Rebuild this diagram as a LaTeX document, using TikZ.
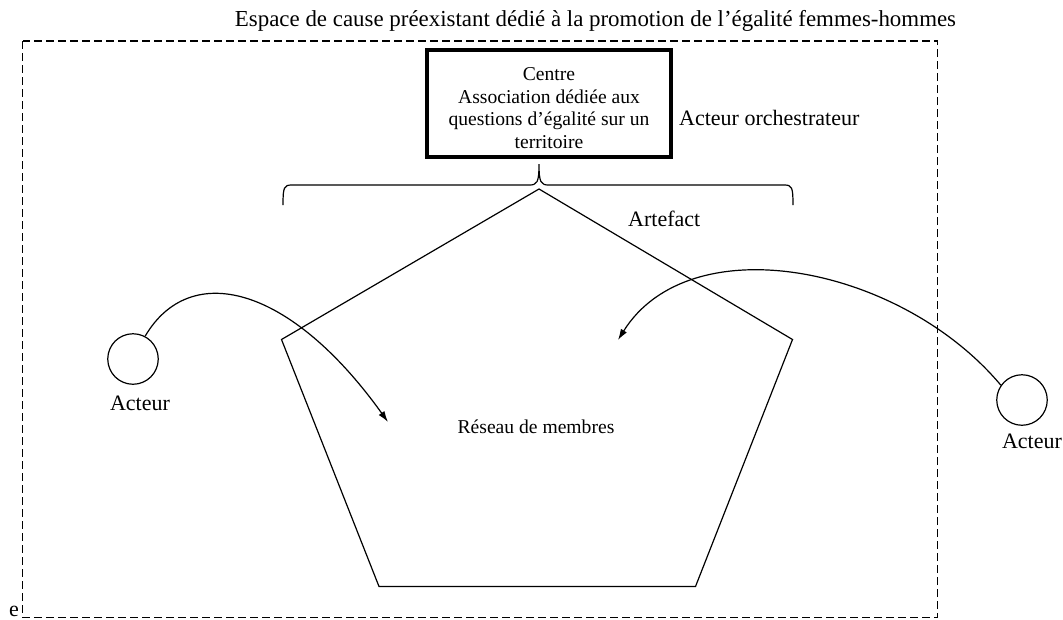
\documentclass[tikz,border=0pt]{standalone}
\usepackage{fontspec}
\setmainfont{Liberation Serif}
\usetikzlibrary{arrows.meta}
\tikzset{
  lbl/.style={font=\fontsize{22}{26}\selectfont, inner sep=0pt},
  titlefont/.style={font=\fontsize{22.9}{27}\selectfont, inner sep=0pt},
  small/.style={font=\fontsize{19.6}{22.5}\selectfont, inner sep=0pt},
  thin line/.style={line width=1.2pt},
  frame/.style={line width=1.2pt, dash pattern=on 8pt off 4pt},
  centrebox/.style={draw, line width=3.5pt, minimum width=244pt, minimum height=107pt, inner sep=0pt},
  actor/.style={circle, draw, line width=1.2pt, minimum size=50.5pt, inner sep=0pt},
  flow/.style={line width=1.2pt, -{Latex[length=11pt,width=7pt]}},
}
\begin{document}
\begin{tikzpicture}[x=1pt,y=-1pt]
\useasboundingbox (0,0) rectangle (1063,619);
% frame
\node[titlefont, anchor=base] (title) at (595.5,26) {Espace de cause préexistant dédié à la promotion de l’égalité femmes-hommes};
\coordinate (fnw) at (22.5,41);
\coordinate (fse) at (937.5,617.5);
\draw[frame] (fnw) rectangle (fse);
\node[lbl, anchor=base west] (e) at (9,616.5) {e};
% centre
\node[centrebox] (centre) at (549,103.5) {};
\node[small, align=center] (centretext) at (549,108) {Centre\\Association dédiée aux\\questions d’égalité sur un\\territoire};
\node[lbl, anchor=base west] (orch) at (679,125) {Acteur orchestrateur};
% brace
\coordinate (bl) at (283,205);
\coordinate (br) at (793,205);
\coordinate (btip) at (539,164);
\draw[thin line] (bl) .. controls (283,187) and (284,185) .. (292,185) -- (529,185)
  .. controls (537,185) and (539,183) .. (btip)
  .. controls (539,183) and (541,185) .. (549,185) -- (784,185)
  .. controls (792,185) and (793,187) .. (br);
% pentagon
\coordinate (pt) at (539,189);
\coordinate (pr) at (792.5,339.5);
\coordinate (pbr) at (695.5,586.5);
\coordinate (pbl) at (379,586.5);
\coordinate (pl) at (281.5,339.5);
\draw[thin line, line join=miter] (pt) -- (pr) -- (pbr) -- (pbl) -- (pl) -- cycle;
\node[lbl, anchor=base west] (artefact) at (628,226) {Artefact};
\node[small, anchor=base] (reseau) at (536,433) {Réseau de membres};
% actors
\node[actor] (a1) at (133,359) {};
\node[lbl, anchor=base] (a1l) at (140,410) {Acteur};
\node[actor] (a2) at (1022,400) {};
\node[lbl, anchor=base] (a2l) at (1032,448) {Acteur};
\coordinate (t1) at (388,422);
\coordinate (t2) at (618,340);
\draw[flow] (a1.62) .. controls (190,260) and (290,285) .. (t1);
\draw[flow] (a2.145) .. controls (900,265) and (690,225) .. (t2);
\end{tikzpicture}
\end{document}
